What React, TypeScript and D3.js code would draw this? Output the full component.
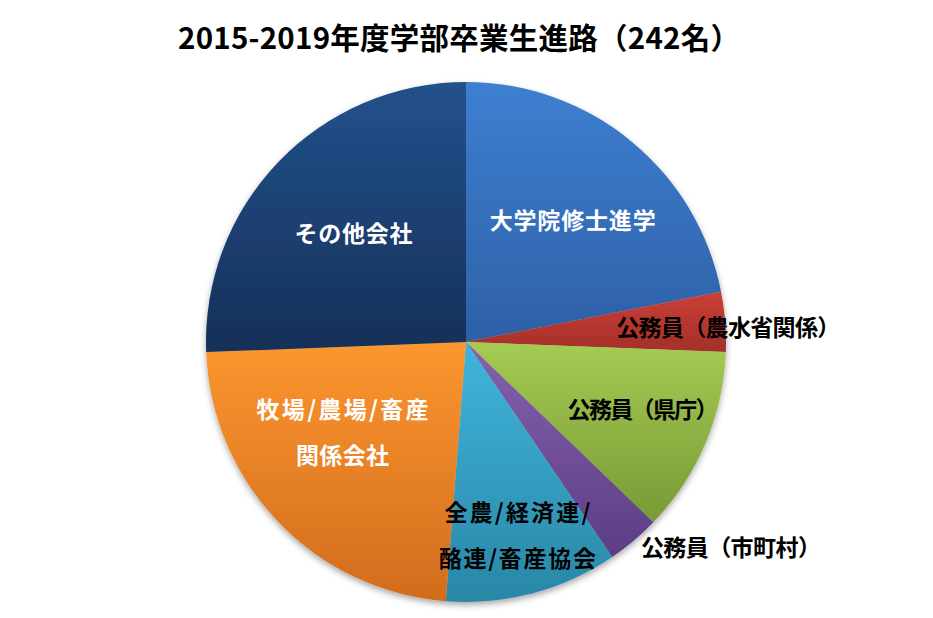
import React from "react";
import * as d3 from "d3";

const categories = [
  "大学院修士進学",
  "公務員（農水省関係）",
  "公務員（県庁）",
  "公務員（市町村）",
  "全農/経済連/酪連/畜産協会",
  "牧場/農場/畜産関係会社",
  "その他会社",
];
const counts = [53, 9, 28, 8, 26, 56, 62];
const labelLines = [
  ["大学院修士進学"],
  ["公務員（農水省関係）"],
  ["公務員（県庁）"],
  ["公務員（市町村）"],
  ["全農/経済連/", "酪連/畜産協会"],
  ["牧場/農場/畜産", "関係会社"],
  ["その他会社"],
];
const title = "2015-2019年度学部卒業生進路（242名）";

// styles / layout (kept separate from data)
const gradients = [
  ["#3e7fd1", "#2d60a6"],
  ["#cb4038", "#a32f29"],
  ["#a4cb52", "#789a36"],
  ["#8562ae", "#5c3d84"],
  ["#40b5dc", "#2987a6"],
  ["#fc962f", "#d26c1e"],
  ["#22528c", "#152f57"],
];
const labelColors = ["#fff", "#000", "#000", "#000", "#000", "#fff", "#fff"];
// radial factor, angle offset (deg), dx, dy
const labelPos: [number, number, number, number][] = [
  [0.62, 2, 0, 0],
  [1.01, 1.5, 0, 0],
  [0.73, -2, 0, 0],
  [1.29, -12, 0, 0],
  [0.77, 0, 0, 0],
  [0.59, 7.5, 0, 0],
  [0.6, 0, 0, 0],
];
const labelWidths = [
  [166],
  [224],
  [151],
  [180],
  [146, 157],
  [172, 93],
  [118],
];

const W = 933;
const H = 618;
const cx = 466;
const cy = 342;
const R = 260;

export default function App() {
  const pie = d3
    .pie<number>()
    .sort(null)
    .value((d) => d);
  const arcs = pie(counts);
  const arcGen = d3.arc<d3.PieArcDatum<number>>().innerRadius(0).outerRadius(R);
  const font = "'Noto Sans CJK JP', 'Noto Sans', sans-serif";

  return (
    <svg
      width={W}
      height={H}
      style={{ position: "absolute", left: 0, top: 0, background: "#fff" }}
    >
      <defs>
        {gradients.map((g, i) => (
          <linearGradient key={i} id={`g${i}`} x1="0" y1="0" x2="0" y2="1">
            <stop offset="0%" stopColor={g[0]} />
            <stop offset="100%" stopColor={g[1]} />
          </linearGradient>
        ))}
        <filter id="shadow" x="-20%" y="-20%" width="140%" height="140%">
          <feDropShadow dx="0" dy="3" stdDeviation="3" floodColor="#000" floodOpacity="0.35" />
        </filter>
      </defs>
      <text
        x={459}
        y={49}
        textAnchor="middle"
        fontFamily={font}
        fontWeight="bold"
        fontSize={29.5}
        textLength={562}
        lengthAdjust="spacing"
        fill="#000"
      >
        {title}
      </text>
      <g transform={`translate(${cx},${cy})`} filter="url(#shadow)">
        {arcs.map((a, i) => (
          <path key={categories[i]} d={arcGen(a) || ""} fill={`url(#g${i})`} />
        ))}
      </g>
      <g transform={`translate(${cx},${cy})`}>
        {arcs.map((a, i) => {
          const [rf, dAng, dx, dy] = labelPos[i];
          const mid = (a.startAngle + a.endAngle) / 2 + (dAng * Math.PI) / 180;
          const x = Math.sin(mid) * R * rf + dx;
          const y = -Math.cos(mid) * R * rf + dy;
          const lines = labelLines[i];
          const lh = 46;
          const y0 = y - ((lines.length - 1) * lh) / 2;
          return (
            <g key={`l${i}`}>
              {lines.map((ln, j) => (
                <text
                  key={j}
                  x={x}
                  y={y0 + j * lh}
                  dy="0.35em"
                  textAnchor="middle"
                  fontFamily={font}
                  fontWeight="bold"
                  fontSize={23}
                  textLength={labelWidths[i][j]}
                  lengthAdjust="spacing"
                  fill={labelColors[i]}
                >
                  {ln}
                </text>
              ))}
            </g>
          );
        })}
      </g>
    </svg>
  );
}
